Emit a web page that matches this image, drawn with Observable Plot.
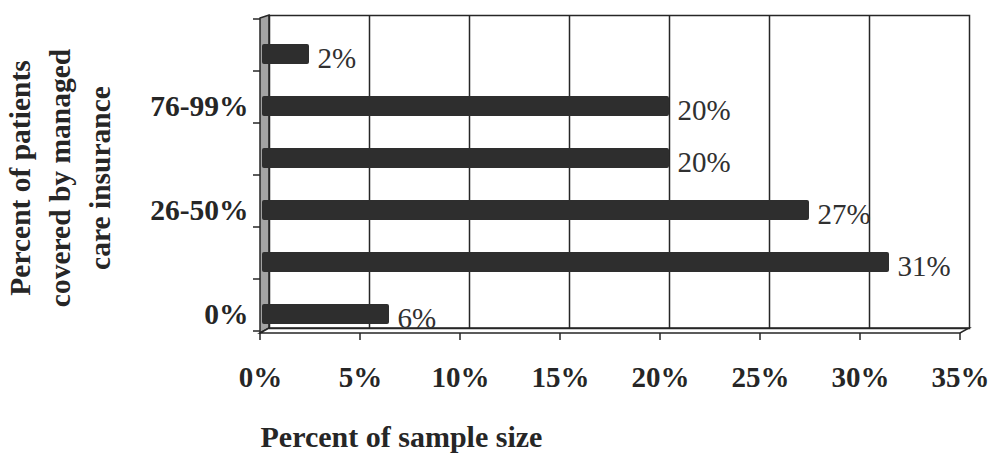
<!DOCTYPE html>
<html>
<head>
<meta charset="utf-8">
<script src="https://cdn.jsdelivr.net/npm/d3@7"></script>
<script src="https://cdn.jsdelivr.net/npm/@observablehq/plot@0.6"></script>
<style>
  html, body { margin: 0; padding: 0; background: #fff; }
</style>
</head>
<body>
<div id="chart"></div>
<script>
// Share of the sample by percent of patients covered by managed care insurance
const categories = ["0%", "1-25%", "26-50%", "51-75%", "76-99%", "100%"];
const shares = [6, 31, 27, 20, 20, 2];
const shownCategoryLabels = ["0%", "26-50%", "76-99%"];
const xTicks = [0, 5, 10, 15, 20, 25, 30, 35];
const xTitle = "Percent of sample size";
const yTitleLines = ["Percent of patients", "covered by managed", "care insurance"];

const data = categories.map((category, i) => ({category, share: shares[i]}));

const FONT = "'Liberation Serif', 'Times New Roman', Times, serif";
const INK = "#262626";
// offset of the front edge of the floor relative to the back wall
const FRONT_DX = -9;
const FRONT_DY = 5;

// back wall's left side, floor and the front-edge ticks
function depthFrame(index, scales, values, dimensions) {
  const {x, y} = scales;
  const top = dimensions.marginTop;
  const bottom = dimensions.height - dimensions.marginBottom;
  const x0 = x(xTicks[0]);
  const x1 = x(xTicks[xTicks.length - 1]);
  const g = d3.create("svg:g");

  g.append("path")
    .attr("d", `M${x0 + FRONT_DX},${top + 3}L${x0},${top}L${x0},${bottom}L${x0 + FRONT_DX},${bottom + FRONT_DY}Z`)
    .attr("fill", "#a3a3a3").attr("stroke", INK).attr("stroke-width", 1.5);

  g.append("path")
    .attr("d", `M${x0 + FRONT_DX},${bottom + FRONT_DY}L${x0},${bottom}L${x1},${bottom}L${x1 + FRONT_DX},${bottom + FRONT_DY}Z`)
    .attr("fill", "#fff").attr("stroke", INK).attr("stroke-width", 1.5);

  for (const t of xTicks) {
    const xt = x(t) + FRONT_DX;
    g.append("line")
      .attr("x1", xt).attr("x2", xt)
      .attr("y1", bottom + FRONT_DY).attr("y2", bottom + FRONT_DY + 7)
      .attr("stroke", INK).attr("stroke-width", 1.5);
  }

  // category band boundaries along the front-left edge
  const step = y.step();
  const bw = y.bandwidth();
  const centers = y.domain().map(c => y(c) + bw / 2);
  const bounds = centers.map(c => c - step / 2 - 9);
  bounds.push(centers[centers.length - 1] + step / 2 - 9);
  const xl = x0 + FRONT_DX;
  for (const b of bounds) {
    g.append("line")
      .attr("x1", xl - 7).attr("x2", xl)
      .attr("y1", b).attr("y2", b)
      .attr("stroke", INK).attr("stroke-width", 1.5);
  }
  return g.node();
}

const chart = Plot.plot({
  width: 989,
  height: 455,
  marginLeft: 269,
  marginRight: 20,
  marginTop: 15,
  marginBottom: 127,
  style: {fontFamily: FONT, background: "#fff", color: INK},
  x: {domain: [0, 35]},
  y: {
    domain: categories.slice().reverse(),
    range: [26, 341],
    paddingInner: 0.62,
    paddingOuter: 0.31,
    align: 0.5
  },
  marks: [
    depthFrame,
    Plot.gridX(xTicks.slice(1, -1), {stroke: INK, strokeOpacity: 1, strokeWidth: 1.5}),
    Plot.frame({stroke: INK, strokeWidth: 1.5}),
    Plot.barX(data, {x: "share", y: "category", fill: "#2e2e2e", insetLeft: -7, rx: 2}),
    Plot.text(data, {
      x: "share", y: "category", text: d => `${d.share}%`,
      textAnchor: "start", dx: 8, dy: 4, fontSize: 29, fill: "#303030"
    }),
    Plot.axisY(shownCategoryLabels, {
      tickSize: 0, tickPadding: 21, fontSize: 29.5, fontWeight: "bold", label: null, fill: INK
    }),
    Plot.axisX(xTicks, {
      tickSize: 0, tickPadding: 38, dx: FRONT_DX, fontSize: 29, fontWeight: "bold",
      tickFormat: d => `${d}%`, label: null, fill: INK
    }),
    Plot.text([xTitle], {
      frameAnchor: "bottom-left", textAnchor: "start", lineAnchor: "bottom",
      dx: -9, dy: 118, fontSize: 30, fontWeight: "bold", fill: INK
    }),
    Plot.text([yTitleLines.join("\n")], {
      frameAnchor: "left", textAnchor: "middle", lineAnchor: "middle",
      rotate: -90, lineHeight: 1.35, dx: -212, dy: 6,
      fontSize: 29.5, fontWeight: "bold", fill: INK
    })
  ]
});

document.getElementById("chart").append(chart);
</script>
</body>
</html>
